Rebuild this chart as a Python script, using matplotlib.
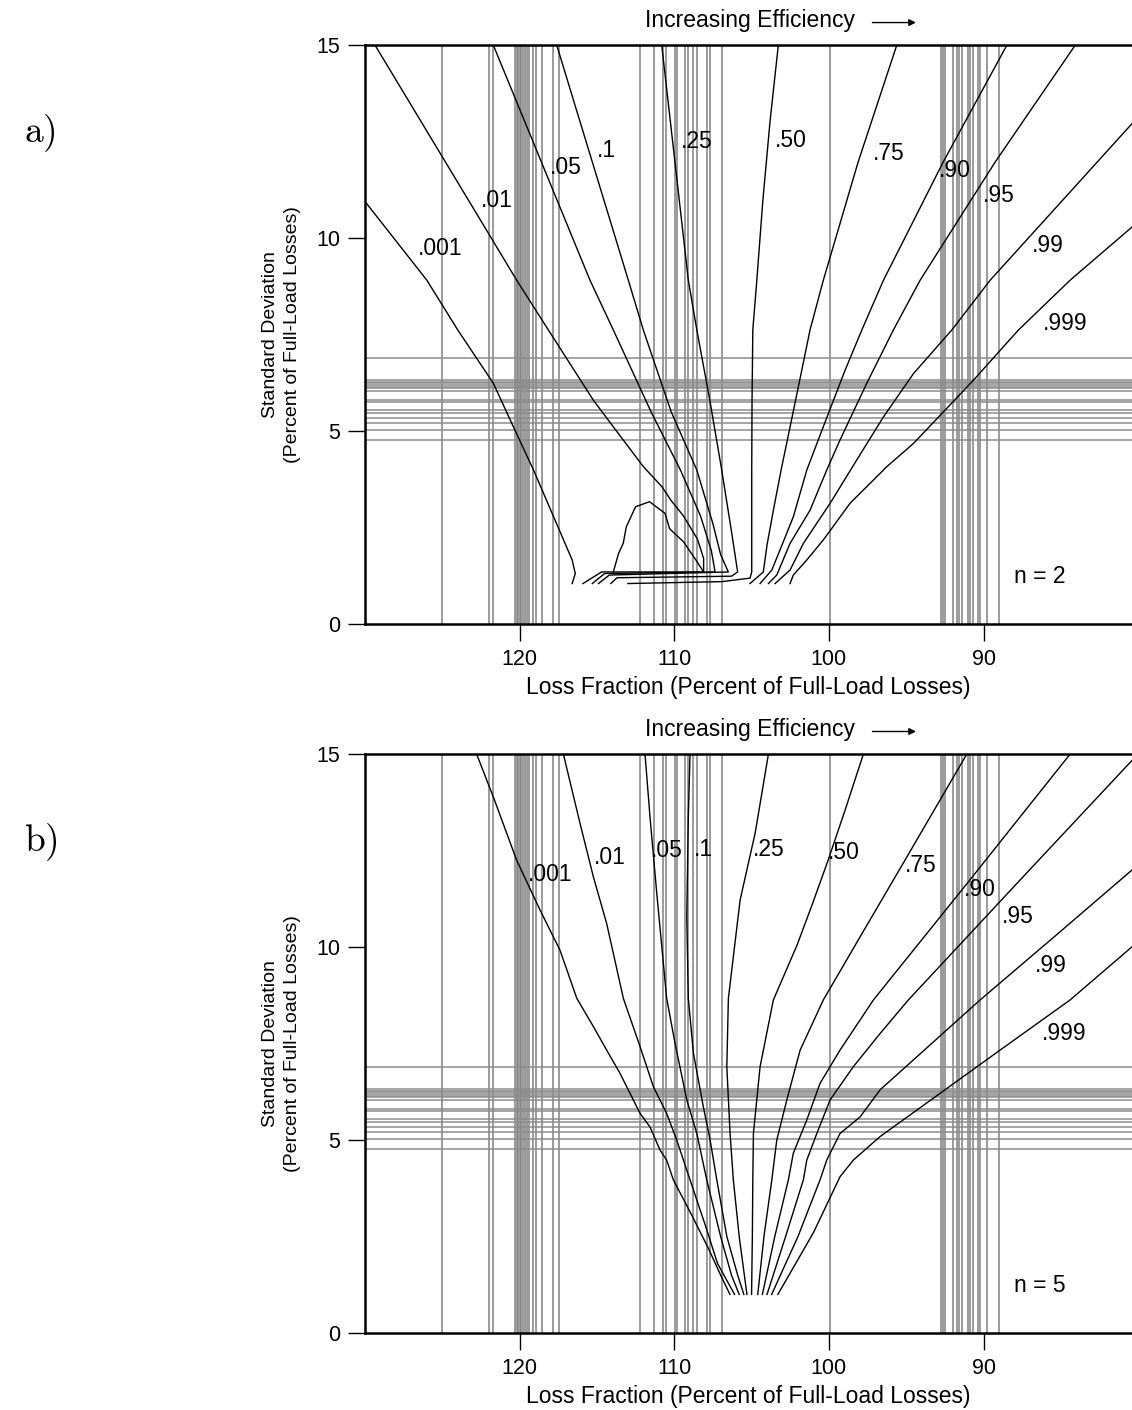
import matplotlib
matplotlib.use('Agg')
import matplotlib.pyplot as plt

plt.rcParams['font.family'] = ['Liberation Sans', 'DejaVu Sans']
plt.rcParams['mathtext.fontset'] = 'cm'

# Measured units: loss fraction (vertical gray lines) and standard deviation (horizontal gray lines)
loss_lines = [125.0, 122.0, 121.75, 120.3, 120.2, 120.1, 120.0, 119.9, 119.8, 119.65,
              119.5, 119.4, 119.13, 118.94, 118.57, 117.86, 117.43, 112.21, 111.3,
              110.74, 110.53, 109.95, 109.84, 109.3, 109.1, 108.76, 108.54, 107.9,
              107.68, 106.93, 99.92, 92.74, 92.59, 92.48, 91.95, 91.72, 91.6, 91.4,
              90.99, 90.85, 90.69, 90.39, 90.2, 89.75, 88.97]
sd_lines = [6.90, 6.32, 6.28, 6.24, 6.20, 6.15, 6.12, 6.04, 5.80, 5.76, 5.55, 5.48,
            5.35, 5.22, 5.03, 4.77]

niveles = ['.001', '.01', '.05', '.1', '.25', '.50', '.75', '.90', '.95', '.99', '.999']

# Panel a (n = 2): contour points (loss fraction, standard deviation)
a_001 = [(130.0, 10.95), (126.0, 8.91), (124.0, 7.62), (121.7, 6.24), (120.4, 5.11),
         (119.1, 3.99), (117.8, 2.78), (116.6, 1.66), (116.4, 1.31), (116.6, 1.05)]
a_01 = [(129.35, 15.0), (120.19, 8.91), (118.14, 7.62), (115.23, 5.80), (113.94, 5.11),
        (112.0, 4.08), (110.8, 3.56), (110.2, 3.2), (109.4, 2.8), (108.5, 2.2),
        (108.1, 1.7), (108.1, 1.35), (114.7, 1.35), (115.9, 1.05)]
a_hump = [(113.94, 1.35), (113.6, 1.83), (113.3, 2.09), (113.1, 2.52), (112.5, 3.04),
          (111.6, 3.17), (110.6, 2.87), (110.3, 2.47), (109.4, 2.13), (108.6, 1.66),
          (108.1, 1.35)]
a_05 = [(121.7, 15.0), (115.45, 8.91), (113.94, 7.62), (111.5, 5.5), (109.6, 3.99),
        (108.3, 2.8), (107.6, 1.9), (107.36, 1.35), (114.5, 1.31), (115.3, 1.05)]
a_1 = [(117.6, 15.0), (112.97, 8.91), (112.0, 7.62), (110.2, 5.5), (108.54, 3.99),
       (107.5, 2.6), (107.0, 1.8), (106.5, 1.35), (114.2, 1.27), (114.9, 1.05)]
a_25 = [(110.81, 15.0), (109.09, 8.91), (108.54, 7.62), (107.7, 5.8), (106.93, 3.99),
        (106.3, 2.4), (105.9, 1.35), (106.3, 1.24), (113.7, 1.2), (114.1, 1.05)]
a_50 = [(103.27, 15.0), (103.8, 13.05), (104.27, 10.98), (104.66, 8.91), (104.92, 7.62),
        (104.97, 5.8), (104.99, 3.99), (104.99, 1.35), (105.1, 1.19), (106.9, 1.10),
        (113.0, 1.05)]
a_75 = [(95.61, 15.0), (98.11, 11.97), (100.36, 8.91), (101.22, 7.62), (101.86, 6.37),
        (102.51, 5.11), (103.09, 3.99), (103.59, 2.95), (104.0, 2.05), (104.24, 1.35),
        (105.1, 1.05)]
a_90 = [(88.49, 15.0), (92.61, 11.97), (96.47, 8.91), (97.87, 7.62), (98.95, 6.58),
        (100.03, 5.46), (101.43, 3.99), (102.3, 2.78), (103.03, 2.05), (103.69, 1.40),
        (104.45, 1.05)]
a_95 = [(84.07, 15.0), (89.25, 11.97), (94.1, 8.91), (95.83, 7.62), (97.55, 6.24),
        (99.28, 4.77), (100.14, 3.99), (101.22, 2.95), (102.51, 2.09), (103.37, 1.27),
        (103.91, 1.05)]
a_99 = [(80.39, 12.97), (84.98, 10.94), (89.57, 8.91), (92.05, 7.62), (94.53, 6.49),
        (96.47, 5.37), (98.2, 4.25), (99.92, 3.13), (101.65, 2.09), (102.51, 1.40),
        (103.48, 1.05)]
a_999 = [(80.39, 10.29), (84.4, 8.91), (87.74, 7.62), (90.65, 6.32), (94.53, 4.68),
         (96.25, 4.08), (98.63, 3.13), (100.36, 2.18), (101.43, 1.66), (102.3, 1.27),
         (102.51, 1.05)]
curvas_a = [a_001, a_01, a_hump, a_05, a_1, a_25, a_50, a_75, a_90, a_95, a_99, a_999]
etiquetas_a = [(125.15, 9.74), (121.46, 10.98), (117.0, 11.84), (114.41, 12.28),
               (108.52, 12.49), (102.44, 12.54), (96.1, 12.2), (91.84, 11.76),
               (88.99, 11.11), (85.82, 9.82), (84.72, 7.80)]

# Panel b (n = 5)
b_001 = [(122.78, 15.0), (121.7, 13.89), (120.19, 12.25), (118.68, 10.96), (117.39, 9.92),
         (116.3, 8.67), (115.23, 7.94), (114.37, 7.33), (113.51, 6.73), (112.21, 5.69),
         (111.57, 5.34), (110.92, 4.74), (110.49, 4.48), (110.06, 3.97), (108.8, 3.0),
         (107.8, 2.2), (107.0, 1.5), (106.4, 1.0)]
b_01 = [(117.17, 15.0), (116.09, 13.2), (115.23, 11.82), (114.37, 10.61), (113.29, 8.67),
        (112.21, 7.42), (111.35, 6.38), (110.49, 5.69), (109.84, 5.0), (108.98, 3.97),
        (108.0, 2.8), (107.2, 1.8), (106.1, 1.0)]
b_05 = [(111.89, 15.0), (111.57, 13.38), (111.13, 11.39), (110.49, 8.67), (109.95, 7.51),
        (109.19, 6.04), (108.54, 5.17), (107.9, 3.97), (107.0, 2.5), (106.3, 1.5),
        (105.8, 1.0)]
b_1 = [(108.98, 15.0), (109.09, 13.38), (109.19, 10.79), (109.09, 8.67), (108.76, 7.25),
       (108.12, 5.86), (107.68, 5.0), (107.25, 3.97), (106.6, 2.5), (105.9, 1.5),
       (105.5, 1.0)]
b_25 = [(103.91, 15.0), (104.77, 12.95), (105.74, 11.22), (106.5, 8.67), (106.6, 6.9),
        (106.39, 5.17), (106.18, 3.97), (105.8, 2.5), (105.3, 1.0)]
b_50 = [(97.77, 15.0), (98.95, 13.55), (100.05, 12.25), (101.09, 11.09), (102.06, 10.05),
        (102.9, 9.27), (103.59, 8.63), (104.45, 6.9), (104.88, 5.17), (104.92, 3.97),
        (104.95, 2.5), (105.0, 1.0)]
b_75 = [(91.08, 15.0), (95.27, 12.12), (97.8, 10.39), (100.36, 8.63), (101.86, 7.33),
        (102.72, 6.04), (103.37, 5.0), (103.69, 3.97), (104.2, 2.5), (104.6, 1.0)]
b_90 = [(84.4, 15.0), (90.76, 11.8), (97.12, 8.63), (99.28, 7.33), (100.57, 6.47),
        (101.43, 5.52), (102.3, 4.66), (102.62, 3.97), (103.5, 2.5), (104.3, 1.0)]
b_95 = [(80.39, 14.84), (87.63, 11.74), (94.86, 8.63), (96.69, 7.76), (98.42, 6.9),
        (99.92, 6.04), (100.78, 5.17), (101.43, 4.48), (101.65, 3.97), (102.8, 2.5),
        (104.0, 1.0)]
b_99 = [(80.39, 12.0), (85.3, 10.31), (90.22, 8.63), (96.69, 6.3), (97.98, 5.6),
        (99.28, 5.17), (100.14, 4.48), (100.57, 3.97), (102.0, 2.5), (103.7, 1.0)]
b_999 = [(80.39, 10.01), (84.4, 8.63), (88.93, 7.33), (96.69, 5.09), (98.42, 4.48),
         (99.28, 4.05), (101.0, 2.6), (103.3, 1.0)]
curvas_b = [b_001, b_01, b_05, b_1, b_25, b_50, b_75, b_90, b_95, b_99, b_999]
etiquetas_b = [(118.03, 11.87), (114.15, 12.31), (110.47, 12.49), (108.14, 12.54),
               (103.87, 12.54), (99.02, 12.44), (94.04, 12.10), (90.22, 11.48),
               (87.76, 10.78), (85.63, 9.53), (84.79, 7.77)]

fs = 16.5


def dibujar_panel(ax, curvas, etiquetas, texto_n, letra):
    # Gray reference lines behind the contours
    for x in loss_lines:
        ax.axvline(x, color='0.5', lw=1.1, zorder=1)
    for y in sd_lines:
        ax.axhline(y, color='0.55', lw=1.1, zorder=1)

    for curva in curvas:
        xs = [p[0] for p in curva]
        ys = [p[1] for p in curva]
        ax.plot(xs, ys, color='black', lw=1.0, zorder=3)

    for nivel, (x, y) in zip(niveles, etiquetas):
        ax.text(x, y, nivel, fontsize=fs, ha='center', va='center', zorder=4)

    ax.set_xlim(130, 80.4)
    ax.set_ylim(0, 15)
    ax.set_xticks([120, 110, 100, 90])
    ax.set_yticks([0, 5, 10, 15])
    ax.tick_params(direction='out', length=12, width=1, pad=6, labelsize=15.5)
    for lado in ['left', 'bottom', 'top']:
        ax.spines[lado].set_linewidth(1.8)
    ax.spines['right'].set_visible(False)

    ax.set_xlabel('Loss Fraction (Percent of Full-Load Losses)', fontsize=fs)
    ax.xaxis.set_label_coords(0.5, -0.09)
    ax.xaxis.label.set_va('top')
    ax.set_ylabel('Standard Deviation\n(Percent of Full-Load Losses)', fontsize=14,
                  linespacing=1.4)
    ax.yaxis.set_label_coords(-0.083, 0.5)

    ax.text(0.88, 0.082, texto_n, transform=ax.transAxes, fontsize=fs,
            ha='center', va='center')

    ax.text(0.365, 1.043, 'Increasing Efficiency', transform=ax.transAxes,
            fontsize=fs, ha='left', va='center')
    ax.annotate('', xy=(0.722, 1.039), xytext=(0.658, 1.039),
                xycoords='axes fraction', textcoords='axes fraction',
                arrowprops=dict(arrowstyle='-|>', color='black', lw=1,
                                mutation_scale=10), annotation_clip=False)

    ax.text(-0.445, 0.848, r'$\mathrm{' + letra + ')}$', transform=ax.transAxes,
            fontsize=27, ha='left', va='center')


fig = plt.figure(figsize=(11.32, 14.10), dpi=100)
ax_a = fig.add_axes([0.3224, 0.5574, 0.6776, 0.4106])
ax_b = fig.add_axes([0.3224, 0.0546, 0.6776, 0.4106])

dibujar_panel(ax_a, curvas_a, etiquetas_a, 'n = 2', 'a')
dibujar_panel(ax_b, curvas_b, etiquetas_b, 'n = 5', 'b')

plt.savefig('out.png', dpi=100)
